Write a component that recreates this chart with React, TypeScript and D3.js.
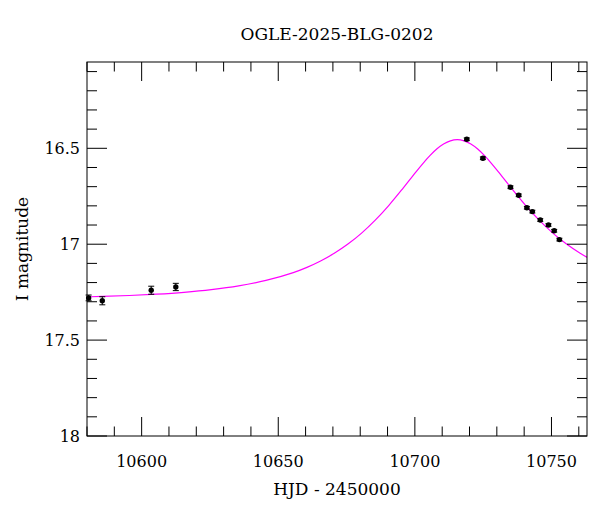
import React from "react";
import * as d3 from "d3";

const TITLE = "OGLE-2025-BLG-0202";
const X_LABEL = "HJD - 2450000";
const Y_LABEL = "I magnitude";

const X_DOMAIN = [10580, 10763];
const Y_DOMAIN = [16.05, 18.0];

const X_MAJOR = [10600, 10650, 10700, 10750];
const Y_MAJOR = [16.5, 17, 17.5, 18];

// observations
const obsHJD = [10580.6, 10585.6, 10603.5, 10612.5, 10719.0, 10724.9, 10735.0, 10738.0, 10741.0, 10743.0, 10745.9, 10748.9, 10751.0, 10752.9];
const obsMag = [17.28, 17.295, 17.24, 17.223, 16.453, 16.552, 16.703, 16.745, 16.81, 16.83, 16.874, 16.9, 16.93, 16.976];
const obsErr = [0.015, 0.021, 0.021, 0.019, 0.007, 0.007, 0.007, 0.007, 0.007, 0.007, 0.007, 0.007, 0.007, 0.007];

// model curve
const modelHJD = [
  10575.5, 10585.5, 10595.5, 10605.5, 10615.5, 10625.5, 10635.5, 10645.5, 10655.5,
  10660.5, 10665.5, 10670.5, 10675.5, 10680.5, 10685.5, 10690.5, 10695.5, 10700.5,
  10703, 10705.5, 10708, 10710.5, 10713, 10715.5, 10718, 10720.5, 10723, 10725.5,
  10728, 10730.5, 10735.5, 10740.5, 10745.5, 10750.5, 10755.5, 10760.5, 10765.5,
];
const modelMag = [
  17.276, 17.2725, 17.2674, 17.2604, 17.2507, 17.237, 17.2175, 17.189, 17.148,
  17.1206, 17.0875, 17.0475, 16.9994, 16.942, 16.8745, 16.797, 16.711, 16.621,
  16.578, 16.5385, 16.504, 16.478, 16.461, 16.455, 16.461, 16.478, 16.504, 16.5385,
  16.578, 16.621, 16.711, 16.797, 16.8745, 16.942, 16.9994, 17.0475, 17.0875,
];

const W = 600, H = 512;
const L = 87, R = 587, T = 62, B = 436;
const FONT = "'DejaVu Serif', serif";

export default function App() {
  const x = d3.scaleLinear().domain(X_DOMAIN).range([L, R]);
  const y = d3.scaleLinear().domain(Y_DOMAIN).range([T, B]);

  const xMinor = d3.range(10580, 10764, 10);
  const yMinor = d3.range(161, 181, 1).map((v) => v / 10).filter((v) => v >= Y_DOMAIN[0] && v <= Y_DOMAIN[1]);

  const line = d3
    .line<number>()
    .x((_, i) => x(modelHJD[i]))
    .y((d) => y(d))
    .curve(d3.curveCatmullRom.alpha(0.5));

  const ticks: React.ReactNode[] = [];
  xMinor.forEach((v, i) => {
    const major = X_MAJOR.includes(v);
    const len = major ? 19 : 9.5;
    const xp = x(v);
    ticks.push(<line key={"xb" + i} x1={xp} x2={xp} y1={B} y2={B - len} stroke="#000" strokeWidth={1} />);
    ticks.push(<line key={"xt" + i} x1={xp} x2={xp} y1={T} y2={T + len} stroke="#000" strokeWidth={1} />);
  });
  yMinor.forEach((v, i) => {
    const major = Y_MAJOR.some((m) => Math.abs(m - v) < 1e-6);
    const len = major ? 20 : 10;
    const yp = y(v);
    ticks.push(<line key={"yl" + i} x1={L} x2={L + len} y1={yp} y2={yp} stroke="#000" strokeWidth={1} />);
    ticks.push(<line key={"yr" + i} x1={R} x2={R - len} y1={yp} y2={yp} stroke="#000" strokeWidth={1} />);
  });

  return (
    <svg width={W} height={H} style={{ position: "absolute", left: 0, top: 0, background: "#fff" }} fontFamily={FONT}>
      <rect x={0} y={0} width={W} height={H} fill="#fff" />
      <defs>
        <clipPath id="plotclip">
          <rect x={L} y={T} width={R - L} height={B - T} />
        </clipPath>
      </defs>
      <text x={(L + R) / 2} y={40} textAnchor="middle" fontSize={17}>{TITLE}</text>
      <path d={line(modelMag) || ""} fill="none" stroke="#ff00ff" strokeWidth={1.2} clipPath="url(#plotclip)" />
      {obsHJD.map((t, i) => {
        const xp = x(t);
        const y1 = y(obsMag[i] - obsErr[i]);
        const y2 = y(obsMag[i] + obsErr[i]);
        return (
          <g key={"p" + i}>
            <line x1={xp} x2={xp} y1={y1} y2={y2} stroke="#000" strokeWidth={1} />
            <line x1={xp - 3} x2={xp + 3} y1={y1} y2={y1} stroke="#000" strokeWidth={1} />
            <line x1={xp - 3} x2={xp + 3} y1={y2} y2={y2} stroke="#000" strokeWidth={1} />
            <circle cx={xp} cy={y(obsMag[i])} r={2.7} fill="#000" />
          </g>
        );
      })}
      {ticks}
      <rect x={L} y={T} width={R - L} height={B - T} fill="none" stroke="#000" strokeWidth={1} />
      {X_MAJOR.map((v) => (
        <text key={"xl" + v} x={x(v)} y={467} textAnchor="middle" fontSize={16}>{v}</text>
      ))}
      {Y_MAJOR.map((v) => (
        <text key={"yl" + v} x={80} y={y(v) + 6} textAnchor="end" fontSize={16}>{String(v)}</text>
      ))}
      <text x={(L + R) / 2} y={495} textAnchor="middle" fontSize={17}>{X_LABEL}</text>
      <text transform={`translate(28, ${(T + B) / 2}) rotate(-90)`} textAnchor="middle" fontSize={17}>{Y_LABEL}</text>
    </svg>
  );
}
